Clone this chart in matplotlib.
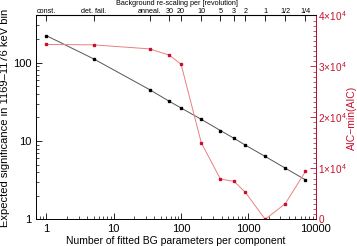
import numpy as np
import matplotlib
matplotlib.use("Agg")
import matplotlib.pyplot as plt
from matplotlib.ticker import FixedLocator, MultipleLocator, FuncFormatter, NullFormatter

plt.rcParams['font.family'] = ['Liberation Sans', 'DejaVu Sans']
plt.rcParams['mathtext.fontset'] = 'custom'
plt.rcParams['mathtext.rm'] = 'Liberation Sans'
plt.rcParams['mathtext.it'] = 'Liberation Sans:italic'

# number of fitted BG parameters per component
n_par = [1, 5, 34, 67, 100, 200, 385, 615, 905, 1780, 3540, 7080]
# expected significance (left axis)
signif = [221, 112, 45.3, 32.1, 26.4, 18.9, 13.6, 10.8, 8.85, 6.35, 4.5, 3.19]
# AIC - min(AIC) (right axis)
aic = [34310, 34240, 33450, 32220, 30450, 15020, 7900, 7450, 5290, 0, 3060, 9410]

top_labels = ['const.', 'det. fail.', 'anneal.', '30', '20', '10', '5', '3', '2', '1', '1/2', '1/4']

red = '#c8102e'
fig = plt.figure(figsize=(3.57, 2.46), dpi=100)
ax = fig.add_axes([0.101, 0.1085, 0.783, 0.8285])

ax.plot(n_par, signif, '-', color='#555555', lw=0.7, marker='s', ms=1.6,
        mfc='black', mec='black')
ax.set_xscale('log')
ax.set_yscale('log')
ax.set_xlim(0.7, 10000)
ax.set_ylim(1, 400)
ax.xaxis.set_major_formatter(FuncFormatter(lambda v, p: '%d' % v))
ax.yaxis.set_major_formatter(FuncFormatter(lambda v, p: '%d' % v))
ax.xaxis.set_minor_formatter(NullFormatter())
ax.yaxis.set_minor_formatter(NullFormatter())
ax.tick_params(which='both', direction='in', labelsize=8, top=False, right=False)
ax.tick_params(which='major', length=4, width=0.6)
ax.tick_params(which='minor', length=2, width=0.5)
ax.set_xlabel('Number of fitted BG parameters per component', fontsize=7.5, labelpad=1)
ax.set_ylabel('Expected significance in 1169\u20131176 keV bin', fontsize=8, labelpad=2)
for s in ax.spines.values():
    s.set_linewidth(0.6)

# top axis with re-scaling labels
top = ax.secondary_xaxis('top')
top.xaxis.set_major_locator(FixedLocator(n_par))
top.xaxis.set_minor_locator(FixedLocator([]))
top.set_xticklabels(top_labels)
top.tick_params(direction='in', length=4, width=0.6, labelsize=5.2, pad=0.5)
fig.text(0.495, 1.0, 'Background re-scaling per [revolution]', fontsize=5.2,
         ha='center', va='top')

# right axis with AIC
ax2 = ax.twinx()
ax2.plot(n_par, aic, '-', color='#e88080', lw=0.7, marker='s', ms=1.6,
         mfc=red, mec=red)
ax2.set_ylim(0, 40000)
ax2.yaxis.set_major_locator(MultipleLocator(10000))
ax2.yaxis.set_minor_locator(MultipleLocator(1000))
ax2.yaxis.set_major_formatter(FuncFormatter(
    lambda v, p: '0' if v == 0 else r'$%d\!\times\!10^4$' % round(v / 1e4)))
ax2.tick_params(which='both', direction='in', colors=red, labelsize=7.2, pad=2)
ax2.tick_params(which='major', length=4, width=0.6)
ax2.tick_params(which='minor', length=2, width=0.5)
ax2.set_ylabel('AIC\u2212min(AIC)', color=red, fontsize=7.5, labelpad=0)
ax2.spines['right'].set_color(red)
for s in ax2.spines.values():
    s.set_linewidth(0.6)

fig.savefig('out.png', dpi=100)
